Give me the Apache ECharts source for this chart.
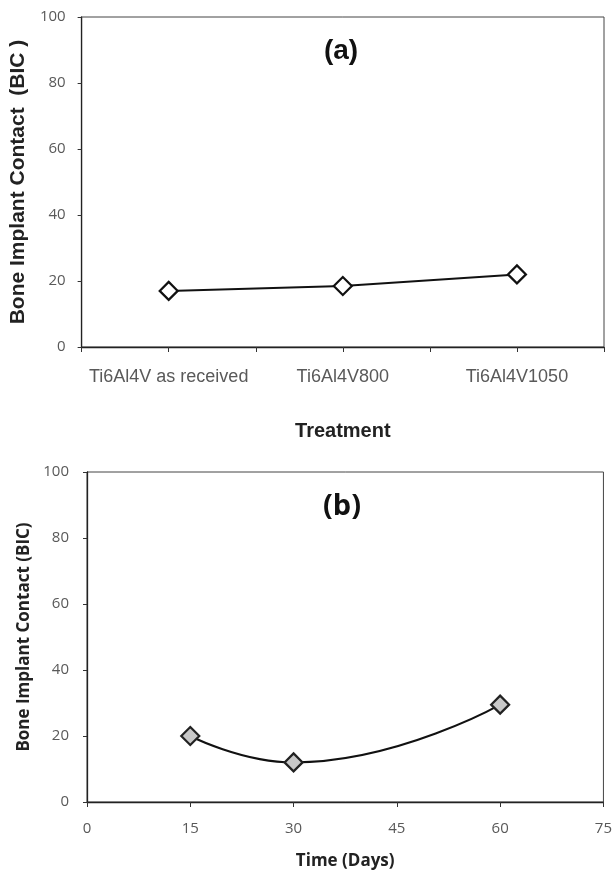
<!DOCTYPE html>
<html><head><meta charset="utf-8">
<script src="https://cdn.jsdelivr.net/npm/echarts@6/dist/echarts.min.js"></script>
<style>html,body{margin:0;padding:0;background:#fff}#c{width:615px;height:871px}</style>
</head><body><div id="c"></div>
<script>
const treatments = ['Ti6Al4V as received', 'Ti6Al4V800', 'Ti6Al4V1050'];
const bicTreatment = [17, 18.5, 22];
const days = [15, 30, 60];
const bicTime = [20, 12, 29.5];
const yTicks = [0, 20, 40, 60, 80, 100];
const dayTicks = [0, 15, 30, 45, 60, 75];

const chart = echarts.init(document.getElementById('c'), null, {renderer: 'canvas'});
const axisLineStyle = {color: '#222', width: 1.3};
const labelColor = '#595959';
chart.setOption({
  animation: false,
  title: [
    {text: '(a)', left: 341, top: 37, textAlign: 'center', padding: 0,
     textStyle: {fontFamily: 'Liberation Sans', fontWeight: 'bold', fontSize: 28, color: '#111'}},
    {text: '(b)', left: 342, top: 492, textAlign: 'center', padding: 0,
     textStyle: {fontFamily: 'Open Sans', fontWeight: 'bold', fontSize: 29, color: '#111'}}
  ],
  grid: [
    {left: 79, top: 17, width: 525, height: 330, show: true, borderColor: '#444', borderWidth: 1},
    {left: 87, top: 472, width: 517, height: 334, show: true, borderColor: '#444', borderWidth: 1}
  ],
  xAxis: [
    {type: 'value', gridIndex: 0, min: -0.5, max: 2.5, interval: 0.5,
     axisLine: {onZero: false, lineStyle: axisLineStyle}, splitLine: {show: false},
     axisTick: {show: true, length: 5, lineStyle: {color: '#333'}},
     axisLabel: {color: labelColor, fontFamily: 'Liberation Sans', fontSize: 18, margin: 21,
       showMinLabel: true, showMaxLabel: true, hideOverlap: false,
       formatter: v => (Number.isInteger(v) && v >= 0 && v < treatments.length) ? treatments[v] : ''},
     name: 'Treatment', nameLocation: 'middle', nameGap: 74,
     nameTextStyle: {fontFamily: 'Liberation Sans', fontWeight: 'bold', fontSize: 20, color: '#222'}},
    {type: 'value', gridIndex: 1, min: dayTicks[0], max: dayTicks[dayTicks.length-1], interval: 15,
     axisLine: {onZero: false, lineStyle: axisLineStyle}, splitLine: {show: false},
     axisTick: {show: true, length: 5, lineStyle: {color: '#333'}},
     axisLabel: {color: labelColor, fontFamily: 'Open Sans', fontSize: 15, margin: 19},
     name: 'Time (Days)', nameLocation: 'middle', nameGap: 51,
     nameTextStyle: {fontFamily: 'Open Sans', fontWeight: 'bold', fontSize: 17, color: '#222'}}
  ],
  yAxis: [
    {type: 'value', gridIndex: 0, min: yTicks[0], max: yTicks[yTicks.length-1], interval: 20,
     axisLine: {show: true, onZero: false, lineStyle: axisLineStyle}, splitLine: {show: false},
     axisTick: {show: true, length: 4, lineStyle: {color: '#333'}},
     axisLabel: {color: labelColor, fontFamily: 'Open Sans', fontSize: 15, margin: 16},
     name: 'Bone Implant Contact  (BIC )', nameLocation: 'middle', nameGap: 48,
     nameTextStyle: {fontFamily: 'Liberation Sans', fontWeight: 'bold', fontSize: 21, color: '#222'}},
    {type: 'value', gridIndex: 1, min: yTicks[0], max: yTicks[yTicks.length-1], interval: 20,
     axisLine: {show: true, onZero: false, lineStyle: axisLineStyle}, splitLine: {show: false},
     axisTick: {show: true, length: 4, lineStyle: {color: '#333'}},
     axisLabel: {color: labelColor, fontFamily: 'Open Sans', fontSize: 15, margin: 18},
     name: 'Bone Implant Contact (BIC)', nameLocation: 'middle', nameGap: 52,
     nameTextStyle: {fontFamily: 'Open Sans', fontWeight: 'bold', fontSize: 17, color: '#222'}}
  ],
  series: [
    {type: 'line', xAxisIndex: 0, yAxisIndex: 0,
     data: bicTreatment.map((v, i) => [i, v]),
     symbol: 'diamond', symbolSize: 18,
     lineStyle: {color: '#111', width: 2},
     itemStyle: {color: '#fff', borderColor: '#111', borderWidth: 2.2}},
    {type: 'line', xAxisIndex: 1, yAxisIndex: 1, smooth: 0.5,
     data: days.map((d, i) => [d, bicTime[i]]),
     symbol: 'diamond', symbolSize: 18,
     lineStyle: {color: '#111', width: 2},
     itemStyle: {color: '#c8c8c8', borderColor: '#222', borderWidth: 2.2}}
  ]
});
</script></body></html>
